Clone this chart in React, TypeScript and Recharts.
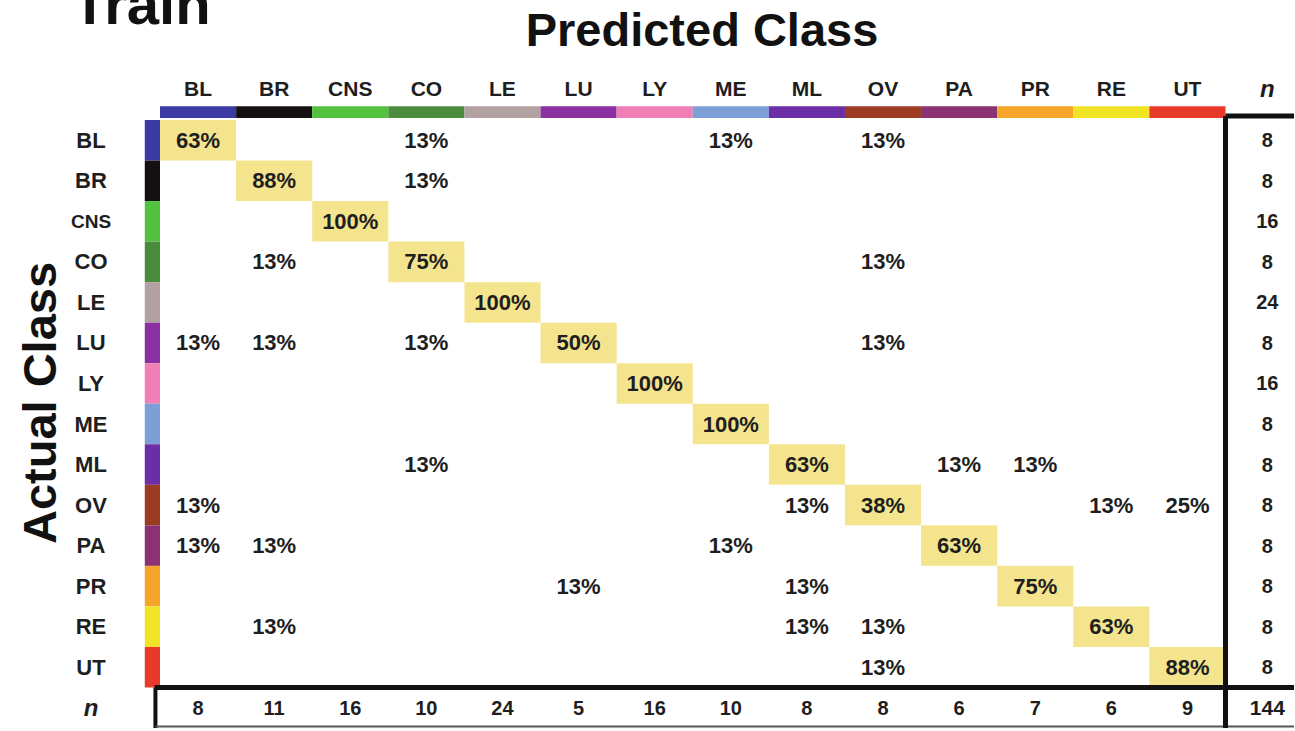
import {
  ScatterChart,
  Scatter,
  XAxis,
  YAxis,
  ReferenceArea,
  ReferenceLine,
} from "recharts";

const CLASSES = ["BL", "BR", "CNS", "CO", "LE", "LU", "LY", "ME", "ML", "OV", "PA", "PR", "RE", "UT"];

const CLASS_COLORS = [
  "#3b3aa3", "#141012", "#52c23e", "#4b8c3c", "#b3a1a1", "#8b30a0", "#f07fb7",
  "#7e9ed8", "#6b2ea6", "#9b3b22", "#8a3272", "#f4a52a", "#f1e424", "#e8392b",
];

// rows = actual class, cols = predicted class, percent (0 = blank)
const CONFUSION: number[][] = [
  [63, 0, 0, 13, 0, 0, 0, 13, 0, 13, 0, 0, 0, 0],
  [0, 88, 0, 13, 0, 0, 0, 0, 0, 0, 0, 0, 0, 0],
  [0, 0, 100, 0, 0, 0, 0, 0, 0, 0, 0, 0, 0, 0],
  [0, 13, 0, 75, 0, 0, 0, 0, 0, 13, 0, 0, 0, 0],
  [0, 0, 0, 0, 100, 0, 0, 0, 0, 0, 0, 0, 0, 0],
  [13, 13, 0, 13, 0, 50, 0, 0, 0, 13, 0, 0, 0, 0],
  [0, 0, 0, 0, 0, 0, 100, 0, 0, 0, 0, 0, 0, 0],
  [0, 0, 0, 0, 0, 0, 0, 100, 0, 0, 0, 0, 0, 0],
  [0, 0, 0, 13, 0, 0, 0, 0, 63, 0, 13, 13, 0, 0],
  [13, 0, 0, 0, 0, 0, 0, 0, 13, 38, 0, 0, 13, 25],
  [13, 13, 0, 0, 0, 0, 0, 13, 0, 0, 63, 0, 0, 0],
  [0, 0, 0, 0, 0, 13, 0, 0, 13, 0, 0, 75, 0, 0],
  [0, 13, 0, 0, 0, 0, 0, 0, 13, 13, 0, 0, 63, 0],
  [0, 0, 0, 0, 0, 0, 0, 0, 0, 13, 0, 0, 0, 88],
];

const ROW_N = [8, 8, 16, 8, 24, 8, 16, 8, 8, 8, 8, 8, 8, 8];
const COL_N = [8, 11, 16, 10, 24, 5, 16, 10, 8, 8, 6, 7, 6, 9];
const TOTAL_N = 144;

const N = CLASSES.length;
const N_POS = N + 0.55; // totals column / row position in data units
const N_ROW = N + 0.5;

const FONT = "'Liberation Sans', Arial, Helvetica, sans-serif";
const INK = "#1e1e1e";
const HILITE = "#f4e48e";

const cellPoints = CONFUSION.flatMap((row, r) =>
  row
    .map((v, c) => ({ x: c + 0.5, y: r + 0.5, label: v ? `${v}%` : "" }))
    .filter((p) => p.label !== "")
);
const rowTotalPoints = ROW_N.map((v, r) => ({ x: N_POS, y: r + 0.5, label: String(v) }));
const colTotalPoints = COL_N.map((v, c) => ({ x: c + 0.5, y: N_ROW, label: String(v) }));
const grandPoint = [{ x: N_POS, y: N_ROW, label: String(TOTAL_N) }];

const xTicks = [...CLASSES.map((_, i) => i + 0.5), N_POS];
const yTicks = [...CLASSES.map((_, i) => i + 0.5), N_ROW];

const labelFor = (v: number) => (v >= N ? "n" : CLASSES[Math.floor(v)]);

function TopTick({ x, payload }: any) {
  const lab = labelFor(payload.value);
  const isN = lab === "n";
  return (
    <text
      x={x}
      y={88}
      textAnchor="middle"
      dominantBaseline="central"
      fontFamily={FONT}
      fontWeight="bold"
      fontStyle={isN ? "italic" : "normal"}
      fontSize={isN ? 24 : 21}
      fill={INK}
    >
      {lab}
    </text>
  );
}

function LeftTick({ y, payload }: any) {
  const lab = labelFor(payload.value);
  const isN = lab === "n";
  return (
    <text
      x={91}
      y={y}
      textAnchor="middle"
      dominantBaseline="central"
      fontFamily={FONT}
      fontWeight="bold"
      fontStyle={isN ? "italic" : "normal"}
      fontSize={isN ? 24 : lab === "CNS" ? 19 : 22}
      fill={INK}
    >
      {lab}
    </text>
  );
}

const cellText = (size: number) => (props: any) => (
  <text
    x={props.cx}
    y={props.cy}
    textAnchor="middle"
    dominantBaseline="central"
    fontFamily={FONT}
    fontWeight="bold"
    fontSize={size}
    fill={INK}
  >
    {props.payload.label}
  </text>
);

export default function App() {
  return (
    <div style={{ position: "absolute", left: 0, top: 0, width: 1295, height: 731, background: "#fff" }}>
      <ScatterChart
        width={1295}
        height={731}
        margin={{ top: 70, right: 1, bottom: 3, left: 60 }}
      >
        <XAxis
          type="number"
          dataKey="x"
          orientation="top"
          domain={[0, 14.9]}
          ticks={xTicks}
          interval={0}
          height={50}
          axisLine={false}
          tickLine={false}
          tick={<TopTick />}
        />
        <YAxis
          type="number"
          dataKey="y"
          domain={[0, 15]}
          reversed
          ticks={yTicks}
          interval={0}
          width={100}
          axisLine={false}
          tickLine={false}
          tick={<LeftTick />}
        />

        {CLASSES.map((c, i) => (
          <ReferenceArea
            key={`hl-${c}`}
            x1={i}
            x2={i + 1}
            y1={i}
            y2={i + 1}
            fill={HILITE}
            fillOpacity={1}
            stroke="none"
            ifOverflow="visible"
          />
        ))}
        {CLASSES.map((c, i) => (
          <ReferenceArea
            key={`top-${c}`}
            x1={i}
            x2={i + 1}
            y1={-0.34}
            y2={-0.05}
            fill={CLASS_COLORS[i]}
            fillOpacity={1}
            stroke="none"
            ifOverflow="visible"
          />
        ))}
        {CLASSES.map((c, i) => (
          <ReferenceArea
            key={`left-${c}`}
            x1={-0.2}
            x2={0}
            y1={i}
            y2={i + 1}
            fill={CLASS_COLORS[i]}
            fillOpacity={1}
            stroke="none"
            ifOverflow="visible"
          />
        ))}

        {/* frame lines */}
        <ReferenceLine
          segment={[{ x: -0.07, y: N }, { x: 14.9, y: N }]}
          stroke="#111"
          strokeWidth={5}
          ifOverflow="visible"
        />
        <ReferenceLine
          segment={[{ x: -0.06, y: N }, { x: -0.06, y: 15 }]}
          stroke="#111"
          strokeWidth={4}
          ifOverflow="visible"
        />
        <ReferenceLine
          segment={[{ x: -0.06, y: 14.96 }, { x: 14.9, y: 14.96 }]}
          stroke="#555"
          strokeWidth={2}
          ifOverflow="visible"
        />
        <ReferenceLine
          segment={[{ x: N, y: -0.1 }, { x: N, y: 15 }]}
          stroke="#111"
          strokeWidth={5}
          ifOverflow="visible"
        />
        <ReferenceLine
          segment={[{ x: N, y: -0.1 }, { x: 14.9, y: -0.1 }]}
          stroke="#111"
          strokeWidth={5}
          ifOverflow="visible"
        />

        <Scatter data={cellPoints} shape={cellText(22)} isAnimationActive={false} />
        <Scatter data={rowTotalPoints} shape={cellText(20)} isAnimationActive={false} />
        <Scatter data={colTotalPoints} shape={cellText(20)} isAnimationActive={false} />
        <Scatter data={grandPoint} shape={cellText(21)} isAnimationActive={false} />

        <text x={72} y={24} fontFamily={FONT} fontWeight="bold" fontSize={58} fill="#111">
          Train
        </text>
        <text x={702} y={46} textAnchor="middle" fontFamily={FONT} fontWeight="bold" fontSize={47} fill="#111">
          Predicted Class
        </text>
        <text
          x={56}
          y={403}
          textAnchor="middle"
          transform="rotate(-90 56 403)"
          fontFamily={FONT}
          fontWeight="bold"
          fontSize={47}
          fill="#111"
        >
          Actual Class
        </text>
      </ScatterChart>
    </div>
  );
}
